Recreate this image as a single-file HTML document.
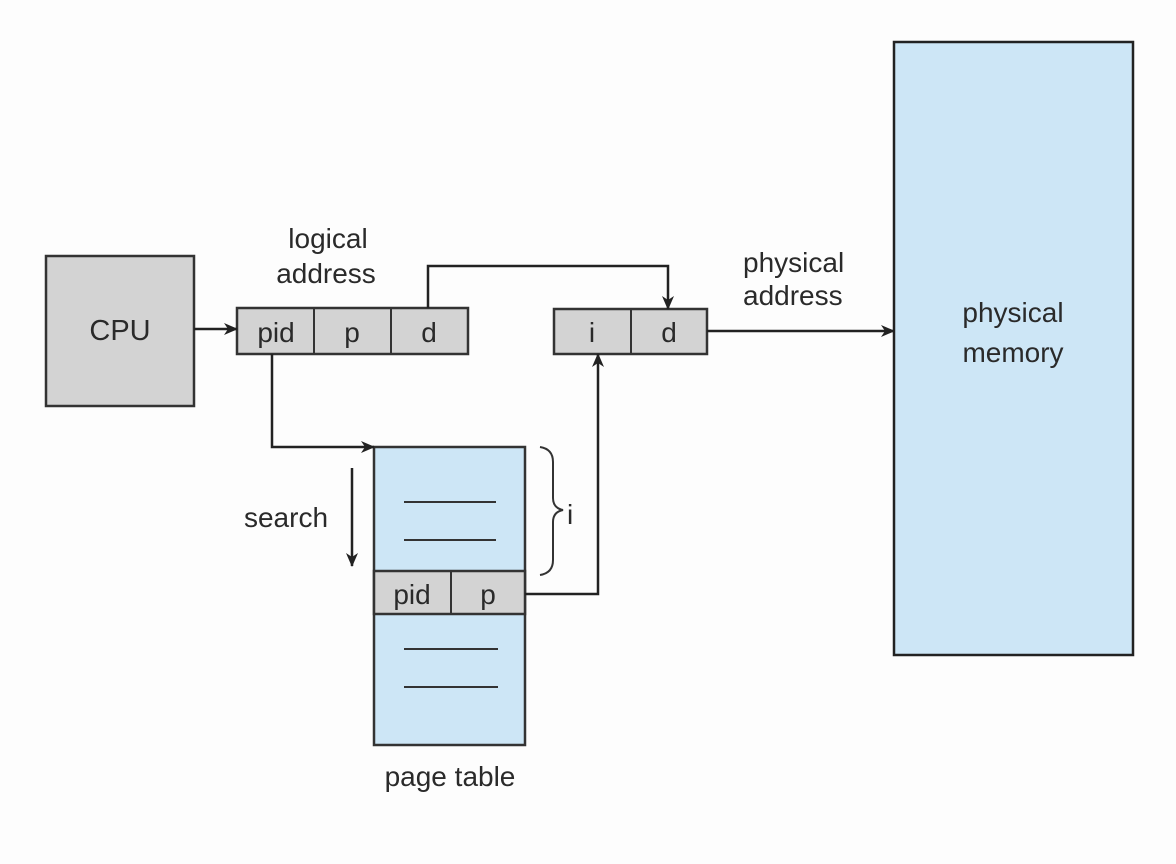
<!DOCTYPE html>
<html><head><meta charset="utf-8"><style>
html,body{margin:0;padding:0;background:#fdfdfd;}
svg{display:block;}
text{font-family:"Liberation Sans",sans-serif;fill:#2a2a2a;}
</style></head><body>
<svg width="1176" height="864" viewBox="0 0 1176 864" xmlns="http://www.w3.org/2000/svg">
<defs>
<marker id="ah" markerWidth="14" markerHeight="12" refX="13" refY="6" orient="auto" markerUnits="userSpaceOnUse">
<path d="M0,0 L14,6 L0,12 L4,6 Z" fill="#222"/>
</marker>
</defs>
<rect width="1176" height="864" fill="#fdfdfd"/>
<!-- CPU -->
<rect x="46" y="256" width="148" height="150" fill="#d3d3d3" stroke="#333" stroke-width="2.5"/>
<text x="120" y="340" font-size="29" text-anchor="middle">CPU</text>
<!-- logical address -->
<text x="328" y="248" font-size="28" text-anchor="middle">logical</text>
<text x="326" y="283" font-size="28" text-anchor="middle">address</text>
<rect x="237" y="308" width="231" height="46" fill="#d3d3d3" stroke="#333" stroke-width="2.5"/>
<line x1="314" y1="308" x2="314" y2="354" stroke="#333" stroke-width="2"/>
<line x1="391" y1="308" x2="391" y2="354" stroke="#333" stroke-width="2"/>
<text x="276" y="342" font-size="28" text-anchor="middle">pid</text>
<text x="352" y="342" font-size="28" text-anchor="middle">p</text>
<text x="429" y="342" font-size="28" text-anchor="middle">d</text>
<!-- physical address box -->
<rect x="554" y="309" width="153" height="45" fill="#d3d3d3" stroke="#333" stroke-width="2.5"/>
<line x1="631" y1="309" x2="631" y2="354" stroke="#333" stroke-width="2"/>
<text x="592" y="342" font-size="28" text-anchor="middle">i</text>
<text x="669" y="342" font-size="28" text-anchor="middle">d</text>
<text x="743" y="272" font-size="28">physical</text>
<text x="743" y="305" font-size="28">address</text>
<!-- physical memory -->
<rect x="894" y="42" width="239" height="613" fill="#cde6f6" stroke="#222" stroke-width="2.5"/>
<text x="1013" y="322" font-size="28" text-anchor="middle">physical</text>
<text x="1013" y="362" font-size="28" text-anchor="middle">memory</text>
<!-- page table -->
<rect x="374" y="447" width="151" height="298" fill="#cde6f6" stroke="#333" stroke-width="2.5"/>
<rect x="374" y="571" width="151" height="43" fill="#d3d3d3" stroke="#333" stroke-width="2.5"/>
<line x1="451" y1="571" x2="451" y2="614" stroke="#333" stroke-width="2"/>
<text x="412" y="604" font-size="28" text-anchor="middle">pid</text>
<text x="488" y="604" font-size="28" text-anchor="middle">p</text>
<line x1="404" y1="502" x2="496" y2="502" stroke="#333" stroke-width="2"/>
<line x1="404" y1="540" x2="496" y2="540" stroke="#333" stroke-width="2"/>
<line x1="404" y1="649" x2="498" y2="649" stroke="#333" stroke-width="2"/>
<line x1="404" y1="687" x2="498" y2="687" stroke="#333" stroke-width="2"/>
<text x="450" y="786" font-size="28" text-anchor="middle">page table</text>
<!-- brace -->
<path d="M540,447 Q553,449 553,462 L553,498 Q553,508 563,510 Q553,512 553,522 L553,560 Q553,573 540,575" fill="none" stroke="#333" stroke-width="2"/>
<text x="567" y="524" font-size="28">i</text>
<!-- search -->
<text x="286" y="527" font-size="28" text-anchor="middle">search</text>
<line x1="352" y1="468" x2="352" y2="566" stroke="#222" stroke-width="2.5" marker-end="url(#ah)"/>
<!-- connectors -->
<line x1="194" y1="329" x2="237" y2="329" stroke="#222" stroke-width="2.5" marker-end="url(#ah)"/>
<polyline points="272,354 272,447 374,447" fill="none" stroke="#222" stroke-width="2.5" marker-end="url(#ah)"/>
<polyline points="428,308 428,266 668,266 668,309" fill="none" stroke="#222" stroke-width="2.5" marker-end="url(#ah)"/>
<polyline points="525,594 598,594 598,354" fill="none" stroke="#222" stroke-width="2.5" marker-end="url(#ah)"/>
<line x1="707" y1="331" x2="894" y2="331" stroke="#222" stroke-width="2.5" marker-end="url(#ah)"/>
</svg>
</body></html>
